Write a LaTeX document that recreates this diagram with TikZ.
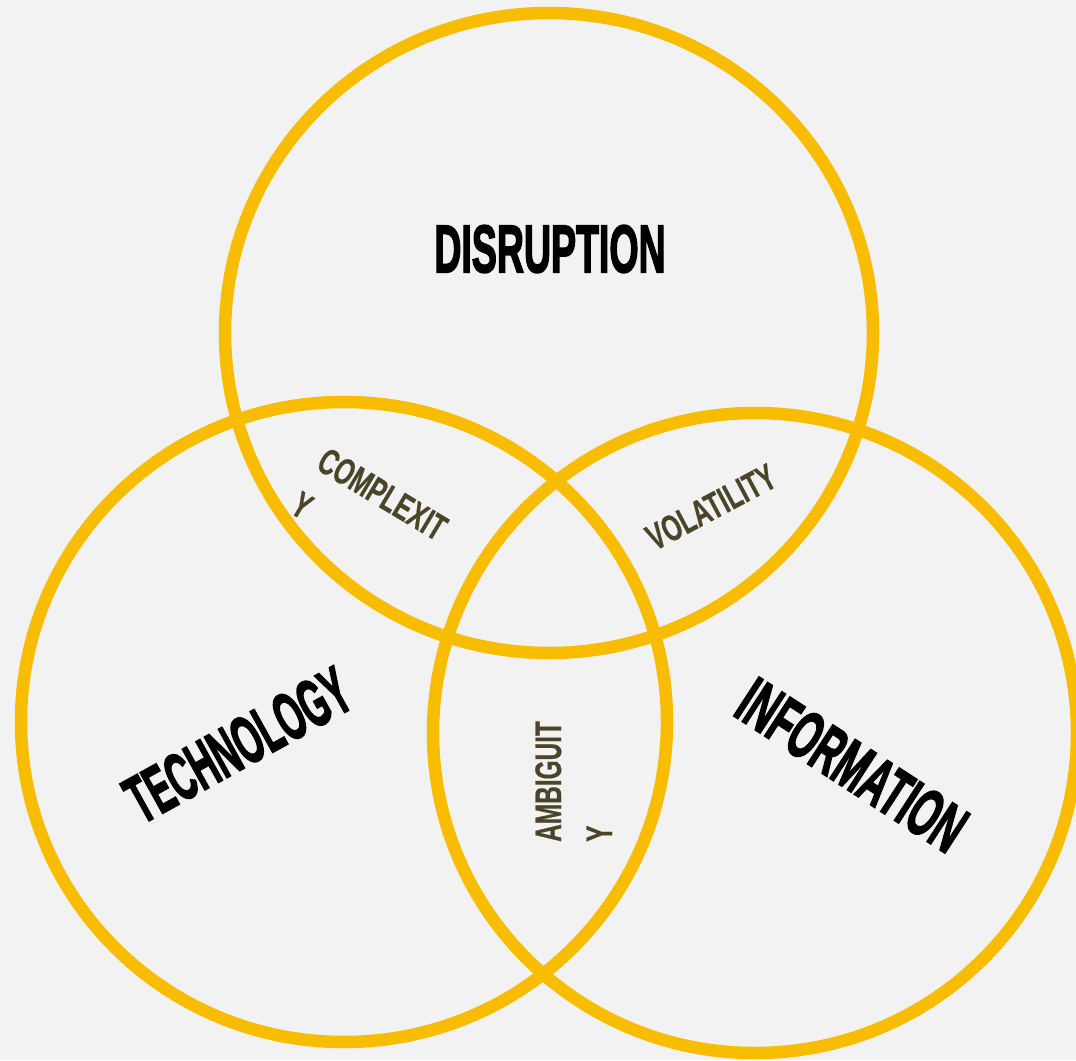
\documentclass[tikz,border=0pt]{standalone}
\usepackage{fontspec}
\usepackage{graphicx}
\newfontfamily\titlefont[FakeBold=3]{Liberation Sans Bold}
\newfontfamily\labelfont[FakeBold=0.6]{Liberation Sans Bold}
\newcommand\hsq[2]{\scalebox{#1}[1]{#2}}
\definecolor{bgcol}{HTML}{F2F2F2}
\definecolor{ringcol}{HTML}{F8BC00}
\definecolor{olive}{HTML}{4A4528}
\begin{document}
\begin{tikzpicture}[x=1pt,y=-1pt,
  ring/.style={draw=ringcol,line width=12.5pt},
  title/.style={inner sep=0pt,text=black,font=\titlefont\fontsize{67}{67}\selectfont},
  zone/.style={inner sep=0pt,text=olive,align=left,font=\labelfont\fontsize{37}{51}\selectfont}]
\fill[bgcol] (0,0) rectangle (1076,1060);
\useasboundingbox (0,0) rectangle (1076,1060);
% circles
\draw[ring] (549,333) ellipse [x radius=324, y radius=320];
\draw[ring] (344,722) ellipse [x radius=323, y radius=320];
\draw[ring] (755,733) ellipse [x radius=322, y radius=320];
% titles
\node[title] (dis) at (550,249) {\hsq{0.56}{DISRUPTION}};
\node[title,rotate=29] (tech) at (238,745) {\hsq{0.52}{TECHNOLOGY}};
\node[title,rotate=-33] (info) at (852,765) {\hsq{0.55}{INFORMATION}};
% intersections
\node[zone,rotate=-31,anchor=north west] (cpx) at (328,446) {\hsq{0.66}{COMPLEXIT}\\\hsq{0.66}{Y}};
\node[zone,rotate=28] (vol) at (711,507) {\hsq{0.66}{VOLATILITY}};
\node[zone,rotate=90,anchor=north west] (amb) at (535,842) {\hsq{0.66}{AMBIGUIT}\\\hsq{0.66}{Y}};
\end{tikzpicture}
\end{document}
